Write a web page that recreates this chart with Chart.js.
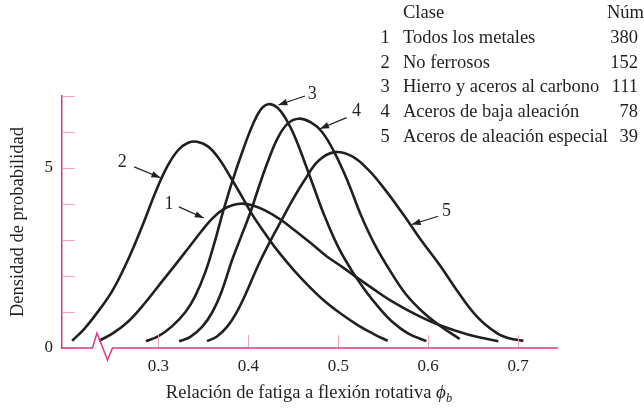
<!DOCTYPE html>
<html>
<head>
<meta charset="utf-8">
<script src="https://cdn.jsdelivr.net/npm/chart.js@4/dist/chart.umd.min.js"></script>
<style>
html, body { margin: 0; padding: 0; background: #fff; }
</style>
</head>
<body>
<canvas id="chart" width="644" height="408"></canvas>
<script>
// ticks
const xTicks = [0.3, 0.4, 0.5, 0.6, 0.7];
const yTicks = [0, 1, 2, 3, 4, 5, 6, 7];
const yTickLabels = { 0: "0", 5: "5" };

// legend table
const classIds = ["1", "2", "3", "4", "5"];
const classNames = ["Todos los metales", "No ferrosos", "Hierro y aceros al carbono", "Aceros de baja aleación", "Aceros de aleación especial"];
const classCounts = ["380", "152", "111", "78", "39"];

// curves (x = fatigue ratio, y = density)
const curve1X = [0.234, 0.250, 0.267, 0.285, 0.304, 0.320, 0.334, 0.348, 0.360, 0.372, 0.383, 0.393, 0.405, 0.418, 0.435, 0.450, 0.470, 0.487, 0.505, 0.520, 0.540, 0.557, 0.585, 0.613, 0.645, 0.678];
const curve1Y = [0.20, 0.42, 0.75, 1.25, 1.85, 2.35, 2.80, 3.25, 3.60, 3.85, 3.97, 4.01, 3.96, 3.83, 3.58, 3.30, 2.90, 2.55, 2.24, 1.97, 1.62, 1.34, 0.95, 0.63, 0.37, 0.19];

const curve2X = [0.204, 0.217, 0.230, 0.249, 0.267, 0.283, 0.297, 0.310, 0.322, 0.333, 0.343, 0.355, 0.367, 0.380, 0.393, 0.404, 0.418, 0.432, 0.450, 0.468, 0.485, 0.503, 0.522, 0.540, 0.555];
const curve2Y = [0.20, 0.52, 0.92, 1.60, 2.50, 3.45, 4.35, 5.05, 5.50, 5.70, 5.73, 5.60, 5.27, 4.75, 4.20, 3.72, 3.20, 2.72, 2.18, 1.70, 1.30, 0.95, 0.63, 0.38, 0.20];

const curve3X = [0.286, 0.300, 0.315, 0.330, 0.341, 0.352, 0.362, 0.372, 0.383, 0.394, 0.404, 0.413, 0.422, 0.432, 0.442, 0.452, 0.462, 0.473, 0.485, 0.500, 0.515, 0.530, 0.545, 0.560, 0.578, 0.598];
const curve3Y = [0.19, 0.33, 0.60, 1.00, 1.45, 2.10, 2.90, 3.80, 4.70, 5.50, 6.15, 6.60, 6.77, 6.68, 6.35, 5.85, 5.20, 4.45, 3.65, 2.80, 2.15, 1.60, 1.13, 0.73, 0.40, 0.19];

const curve4X = [0.323, 0.335, 0.349, 0.360, 0.370, 0.382, 0.392, 0.402, 0.412, 0.422, 0.433, 0.444, 0.456, 0.470, 0.482, 0.496, 0.511, 0.525, 0.540, 0.558, 0.575, 0.594, 0.613, 0.635];
const curve4Y = [0.19, 0.30, 0.60, 1.00, 1.55, 2.45, 3.10, 3.75, 4.50, 5.20, 5.85, 6.24, 6.37, 6.26, 6.00, 5.42, 4.60, 3.70, 2.90, 2.13, 1.50, 1.00, 0.62, 0.25];

const curve5X = [0.354, 0.365, 0.376, 0.386, 0.397, 0.411, 0.425, 0.438, 0.450, 0.463, 0.478, 0.496, 0.515, 0.533, 0.552, 0.572, 0.592, 0.613, 0.632, 0.654, 0.676, 0.690, 0.706];
const curve5Y = [0.19, 0.32, 0.58, 0.95, 1.50, 2.30, 3.00, 3.60, 4.15, 4.68, 5.20, 5.44, 5.33, 4.96, 4.40, 3.72, 3.00, 2.30, 1.60, 0.88, 0.42, 0.27, 0.20];

// curve labels with arrows: [label, labelX, labelY, fromX, fromY, tipX, tipY]
const callouts = [
  ["1", 0.3116, 3.98, 0.3227, 3.92, 0.3504, 3.61],
  ["2", 0.2597, 5.15, 0.2730, 5.03, 0.3022, 4.73],
  ["3", 0.4711, 7.05, 0.4630, 7.00, 0.4333, 6.75],
  ["4", 0.5204, 6.58, 0.5093, 6.40, 0.4797, 6.09],
  ["5", 0.6204, 3.80, 0.6111, 3.66, 0.5816, 3.43]
];

const ink = "#231f20";
const axisPink = "#e8318a";
const tickPink = "#f5a3c7";
const serif = "'Liberation Serif', 'DejaVu Serif', serif";

function toPoints(xs, ys) {
  return xs.map((x, i) => ({ x: x, y: ys[i] }));
}

function curve(xs, ys) {
  return {
    data: toPoints(xs, ys),
    borderColor: ink,
    borderWidth: 2.6,
    pointRadius: 0,
    fill: false,
    tension: 0.4
  };
}

function arrow(ctx, x0, y0, x1, y1) {
  ctx.beginPath();
  ctx.moveTo(x0, y0);
  ctx.lineTo(x1, y1);
  ctx.stroke();
  const a = Math.atan2(y1 - y0, x1 - x0);
  const len = 9, w = 3.2;
  ctx.beginPath();
  ctx.moveTo(x1, y1);
  ctx.lineTo(x1 - len * Math.cos(a) + w * Math.sin(a), y1 - len * Math.sin(a) - w * Math.cos(a));
  ctx.lineTo(x1 - len * Math.cos(a) - w * Math.sin(a), y1 - len * Math.sin(a) + w * Math.cos(a));
  ctx.closePath();
  ctx.fill();
}

const decorations = {
  id: "decorations",
  afterDraw(chart) {
    const ctx = chart.ctx;
    const xs = chart.scales.x, ys = chart.scales.y;
    const area = chart.chartArea;
    ctx.save();

    // inward tick marks
    ctx.strokeStyle = tickPink;
    ctx.lineWidth = 1;
    xTicks.forEach(v => {
      const px = Math.round(xs.getPixelForValue(v)) + 0.5;
      ctx.beginPath();
      ctx.moveTo(px, area.bottom);
      ctx.lineTo(px, area.bottom - 13);
      ctx.stroke();
    });
    yTicks.forEach(v => {
      const py = Math.round(ys.getPixelForValue(v)) + 0.5;
      ctx.beginPath();
      ctx.moveTo(area.left, py);
      ctx.lineTo(area.left + 13, py);
      ctx.stroke();
    });

    // x axis with break mark
    const b = xs.getPixelForValue(0.2266);
    const yb = area.bottom;
    ctx.strokeStyle = axisPink;
    ctx.lineWidth = 1.5;
    ctx.beginPath();
    ctx.moveTo(area.left, yb);
    ctx.lineTo(b, yb);
    ctx.lineTo(b + 4.5, yb - 15);
    ctx.lineTo(b + 15, yb + 12);
    ctx.lineTo(b + 20, yb);
    ctx.lineTo(area.right, yb);
    ctx.stroke();

    // callouts
    ctx.strokeStyle = ink;
    ctx.fillStyle = ink;
    ctx.lineWidth = 1.2;
    ctx.font = "18px " + serif;
    ctx.textAlign = "center";
    ctx.textBaseline = "middle";
    callouts.forEach(c => {
      ctx.fillText(c[0], xs.getPixelForValue(c[1]), ys.getPixelForValue(c[2]));
      arrow(ctx, xs.getPixelForValue(c[3]), ys.getPixelForValue(c[4]), xs.getPixelForValue(c[5]), ys.getPixelForValue(c[6]));
    });

    // legend table
    ctx.font = "18.5px " + serif;
    ctx.textBaseline = "middle";
    ctx.textAlign = "left";
    ctx.fillText("Clase", 403, 13);
    ctx.textAlign = "right";
    ctx.fillText("Núm", 644, 13);
    classNames.forEach((name, i) => {
      const y = 38 + i * 24.7;
      ctx.textAlign = "center";
      ctx.fillText(classIds[i], 385, y);
      ctx.textAlign = "left";
      ctx.fillText(name, 403, y);
      ctx.textAlign = "right";
      ctx.fillText(classCounts[i], 638, y);
    });

    // axis titles
    ctx.font = "18.5px " + serif;
    ctx.textAlign = "left";
    ctx.textBaseline = "alphabetic";
    const xt = "Relación de fatiga a flexión rotativa ";
    const w1 = ctx.measureText(xt).width;
    ctx.font = "italic 19px " + serif;
    const w2 = ctx.measureText("ϕ").width;
    ctx.font = "italic 12.5px " + serif;
    const w3 = ctx.measureText("b").width;
    let x0 = 309 - (w1 + w2 + w3) / 2;
    ctx.font = "18.5px " + serif;
    ctx.fillText(xt, x0, 398);
    ctx.font = "italic 19px " + serif;
    ctx.fillText("ϕ", x0 + w1, 398);
    ctx.font = "italic 12.5px " + serif;
    ctx.fillText("b", x0 + w1 + w2, 402);

    ctx.translate(18, 222);
    ctx.rotate(-Math.PI / 2);
    ctx.font = "18.5px " + serif;
    ctx.textAlign = "center";
    ctx.textBaseline = "middle";
    ctx.fillText("Densidad de probabilidad", 0, 0);
    ctx.restore();
  }
};

new Chart(document.getElementById("chart"), {
  type: "line",
  data: {
    datasets: [
      curve(curve1X, curve1Y),
      curve(curve2X, curve2Y),
      curve(curve3X, curve3Y),
      curve(curve4X, curve4Y),
      curve(curve5X, curve5Y)
    ]
  },
  options: {
    responsive: false,
    animation: false,
    layout: { padding: { top: 96, right: 86, left: 0, bottom: 0 } },
    plugins: { legend: { display: false }, tooltip: { enabled: false } },
    scales: {
      x: {
        type: "linear",
        min: 0.1927,
        max: 0.7444,
        afterBuildTicks: s => { s.ticks = xTicks.map(v => ({ value: v })); },
        afterFit: s => { s.height = 60; },
        grid: { display: false, drawTicks: false },
        border: { display: false },
        ticks: {
          color: ink,
          font: { family: serif, size: 17 },
          padding: 8,
          maxRotation: 0,
          callback: v => v.toFixed(1)
        }
      },
      y: {
        min: 0,
        max: 7,
        afterBuildTicks: s => { s.ticks = yTicks.map(v => ({ value: v })); },
        afterFit: s => { s.width = 62; },
        grid: { display: false, drawTicks: false },
        border: { display: true, color: axisPink, width: 1.5 },
        ticks: {
          color: ink,
          font: { family: serif, size: 17 },
          padding: 9,
          callback: v => yTickLabels[v] || ""
        }
      }
    }
  },
  plugins: [decorations]
});
</script>
</body>
</html>
